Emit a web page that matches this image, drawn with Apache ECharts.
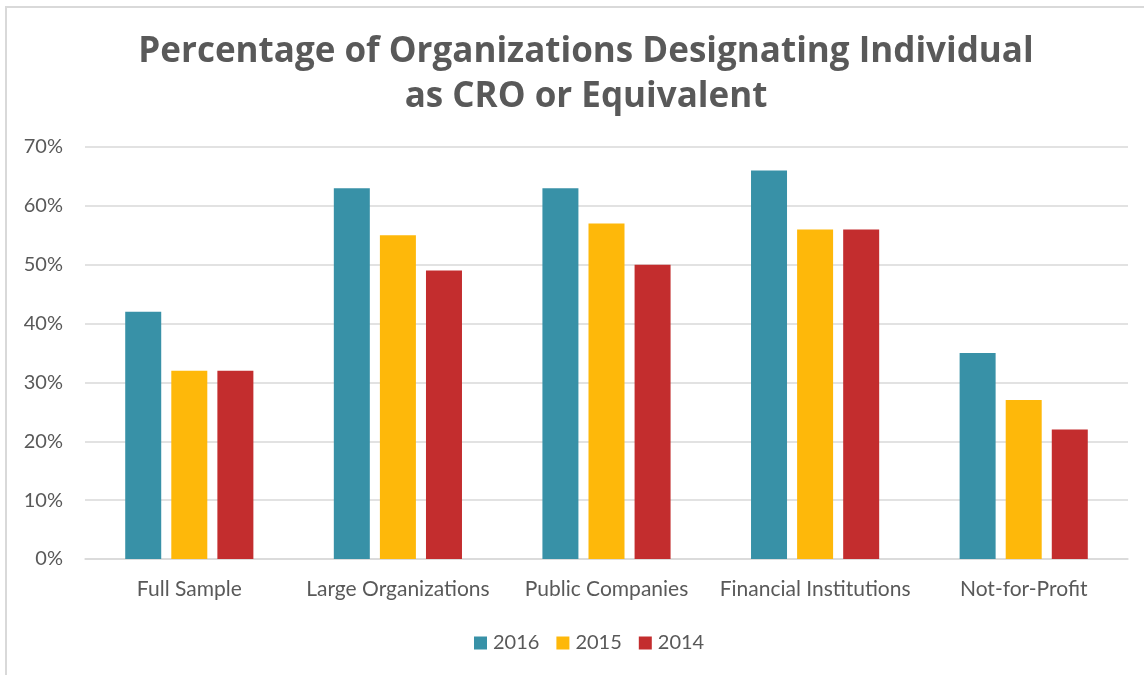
<!DOCTYPE html>
<html>
<head>
<meta charset="utf-8">
<script src="https://cdn.jsdelivr.net/npm/echarts@6/dist/echarts.min.js"></script>
<style>
  html, body { margin: 0; padding: 0; background: #fff; }
  #frame { position: absolute; left: 5px; top: 6px; width: 1139px; height: 669px;
           border-left: 2px solid #d9d9d9; border-top: 2px solid #d9d9d9; }
  #chart { position: absolute; left: 0; top: 0; width: 1144px; height: 675px; }
</style>
</head>
<body>
<div id="frame"></div>
<div id="chart"></div>
<script>
// 分类与数据
var categories = ['Full Sample', 'Large Organizations', 'Public Companies', 'Financial Institutions', 'Not-for-Profit']
var years = ['2016', '2015', '2014']
var data2016 = [42, 63, 63, 66, 35]
var data2015 = [32, 55, 57, 56, 27]
var data2014 = [32, 49, 50, 56, 22]
var colors = ['#3891A7', '#FEB80A', '#C32D2E']

var textColor = '#595959'
var font = 'Lato'

var myChart = echarts.init(document.getElementById('chart'))

var seriesData = [data2016, data2015, data2014]
var series = []
for (var i = 0; i < years.length; i++) {
  series.push({
    name: years[i],
    type: 'bar',
    data: seriesData[i],
    barWidth: 36,
    barGap: '28%',
    itemStyle: { color: colors[i] }
  })
}

var option = {
  animation: false,
  color: colors,
  title: {
    text: 'Percentage of Organizations Designating Individual\nas CRO or Equivalent',
    left: 581,
    textAlign: 'center',
    top: 25,
    textStyle: {
      color: textColor,
      fontFamily: 'Open Sans',
      fontWeight: 'bold',
      fontSize: 35,
      lineHeight: 45
    }
  },
  legend: {
    data: years,
    top: 628,
    left: 469,
    itemWidth: 13,
    itemHeight: 13,
    itemGap: 17,
    icon: 'rect',
    textStyle: { color: textColor, fontFamily: font, fontSize: 20, padding: [0, 0, 0, 1] }
  },
  grid: {
    left: 85,
    right: 16,
    top: 147,
    bottom: 116
  },
  xAxis: {
    type: 'category',
    data: categories,
    axisTick: { show: false },
    axisLine: { lineStyle: { color: '#d9d9d9', width: 1.5 } },
    axisLabel: {
      color: textColor,
      fontFamily: font,
      fontSize: 21,
      margin: 20,
      interval: 0
    }
  },
  yAxis: {
    type: 'value',
    min: 0,
    max: 70,
    interval: 10,
    axisLine: { show: false },
    axisTick: { show: false },
    axisLabel: {
      formatter: '{value}%',
      color: textColor,
      fontFamily: font,
      fontSize: 20,
      margin: 22
    },
    splitLine: { lineStyle: { color: '#d9d9d9', width: 1.5 } }
  },
  series: series
}

myChart.setOption(option)
</script>
</body>
</html>
